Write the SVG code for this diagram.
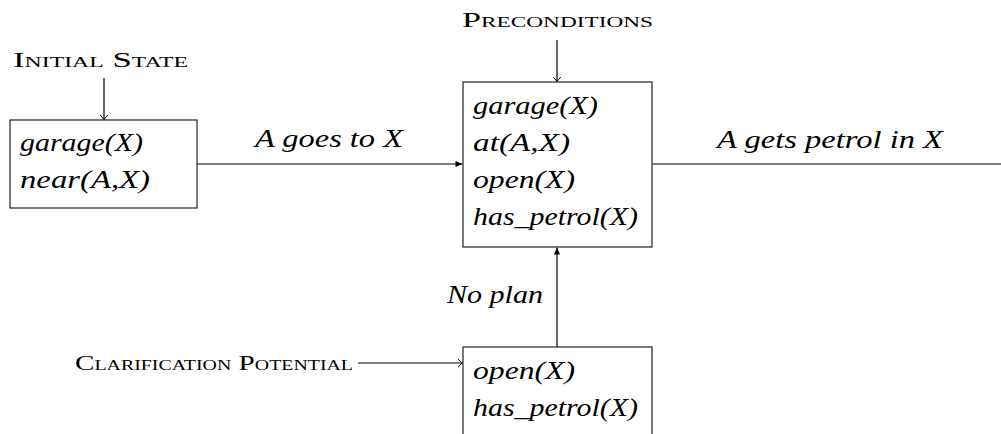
<svg xmlns="http://www.w3.org/2000/svg" width="1001" height="434" viewBox="0 0 1001 434">
<style>
.box{fill:#fff;stroke:#222;stroke-width:1.2}
.ln{fill:none;stroke:#000;stroke-width:1.2}
.it{font-family:"Liberation Serif",serif;font-style:italic;font-size:26px;fill:#000}
.sc{font-family:"Liberation Serif",serif;font-variant:small-caps;font-size:22px;fill:#000}
</style>
<defs>
<marker id="to" markerUnits="userSpaceOnUse" markerWidth="12" markerHeight="12" viewBox="-6 -6 12 12" refX="0" refY="0" orient="auto">
<path d="M-4.5,-3.8 Q-1.2,-0.8 0,0 Q-1.2,0.8 -4.5,3.8" fill="none" stroke="#000" stroke-width="1"/>
</marker>
<marker id="lx" markerUnits="userSpaceOnUse" markerWidth="12" markerHeight="12" viewBox="-10 -6 12 12" refX="0" refY="0" orient="auto">
<path d="M0,0 L-7,-3 L-7,3 Z" fill="#000"/>
</marker>
</defs>
<g id="connectors">
<line class="ln" x1="104" y1="78" x2="104" y2="119.5" marker-end="url(#to)"/>
<line class="ln" x1="557" y1="40" x2="557" y2="81.5" marker-end="url(#to)"/>
<line class="ln" x1="358" y1="363" x2="462.5" y2="363" marker-end="url(#to)"/>
<line class="ln" x1="197" y1="164" x2="462.5" y2="164" marker-end="url(#lx)"/>
<line class="ln" x1="557" y1="347" x2="557" y2="247.5" marker-end="url(#lx)"/>
<line class="ln" x1="652" y1="164" x2="1001" y2="164"/>
<text class="it" x="255" y="147" textLength="148" lengthAdjust="spacingAndGlyphs">A goes to X</text>
<text class="it" x="717" y="148" textLength="226" lengthAdjust="spacingAndGlyphs">A gets petrol in X</text>
<text class="it" x="447" y="303" textLength="96" lengthAdjust="spacingAndGlyphs">No plan</text>
</g>
<g id="initial-state-label">
<text class="sc" x="13" y="67" textLength="175" lengthAdjust="spacingAndGlyphs">Initial State</text>
</g>
<g id="preconditions-label">
<text class="sc" x="462" y="27" textLength="191" lengthAdjust="spacingAndGlyphs">Preconditions</text>
</g>
<g id="clarification-label">
<text class="sc" x="75" y="370" textLength="278" lengthAdjust="spacingAndGlyphs">Clarification Potential</text>
</g>
<g id="initial-state">
<rect class="box" x="10" y="120" width="187" height="88"/>
<text class="it" x="20" y="151" textLength="123" lengthAdjust="spacingAndGlyphs">garage(X)</text>
<text class="it" x="20" y="188" textLength="130" lengthAdjust="spacingAndGlyphs">near(A,X)</text>
</g>
<g id="preconditions">
<rect class="box" x="463" y="82" width="189" height="165"/>
<text class="it" x="473" y="114" textLength="125" lengthAdjust="spacingAndGlyphs">garage(X)</text>
<text class="it" x="473" y="151" textLength="97" lengthAdjust="spacingAndGlyphs">at(A,X)</text>
<text class="it" x="473" y="188" textLength="102" lengthAdjust="spacingAndGlyphs">open(X)</text>
<text class="it" x="473" y="225" textLength="165" lengthAdjust="spacingAndGlyphs">has_petrol(X)</text>
</g>
<g id="clarification">
<rect class="box" x="463" y="347" width="189" height="100"/>
<text class="it" x="473" y="379" textLength="102" lengthAdjust="spacingAndGlyphs">open(X)</text>
<text class="it" x="473" y="416" textLength="165" lengthAdjust="spacingAndGlyphs">has_petrol(X)</text>
</g>
</svg>
